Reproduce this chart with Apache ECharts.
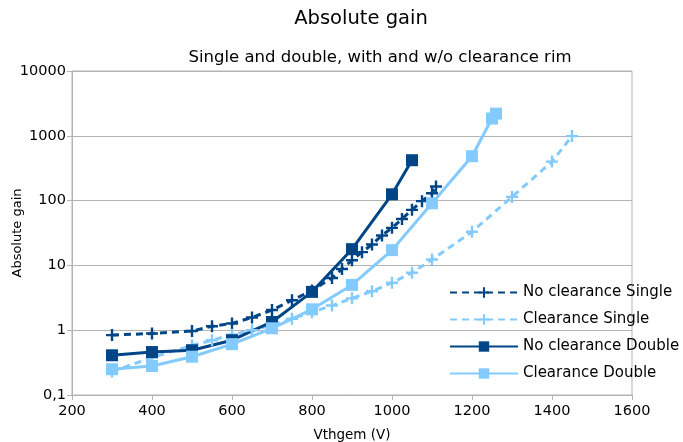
<!DOCTYPE html>
<html>
<head>
<meta charset="utf-8">
<script src="https://cdn.jsdelivr.net/npm/echarts@6/dist/echarts.min.js"></script>
<style>html,body{margin:0;padding:0;background:#fff}#c{width:683px;height:442px}</style>
</head>
<body>
<div id="c"></div>
<script>
const seriesNames = ['No clearance Single', 'Clearance Single', 'No clearance Double', 'Clearance Double'];

const ncSingleV = [300, 400, 500, 550, 600, 650, 700, 750, 800, 850, 875, 900, 925, 950, 975, 1000, 1025, 1050, 1075, 1100, 1110];
const ncSingleG = [0.84, 0.89, 0.97, 1.15, 1.27, 1.57, 2.05, 2.9, 4.1, 6.4, 8.8, 12, 16, 21, 29, 38, 52, 72, 98, 130, 165];

const cSingleV = [300, 400, 500, 550, 600, 650, 700, 750, 800, 850, 900, 950, 1000, 1050, 1100, 1200, 1300, 1400, 1450];
const cSingleG = [0.23, 0.38, 0.58, 0.70, 0.85, 1.0, 1.2, 1.5, 1.9, 2.4, 3.1, 4.0, 5.4, 7.7, 12.3, 33, 114, 400, 990];

const ncDoubleV = [300, 400, 500, 600, 700, 800, 900, 1000, 1050];
const ncDoubleG = [0.41, 0.46, 0.49, 0.70, 1.34, 3.9, 17.8, 125, 420];

const cDoubleV = [300, 400, 500, 600, 700, 800, 900, 1000, 1100, 1200, 1250, 1260];
const cDoubleG = [0.25, 0.28, 0.39, 0.61, 1.07, 2.1, 5.0, 17.2, 91, 484, 1850, 2200];

const xTicks = [200, 400, 600, 800, 1000, 1200, 1400, 1600];
const yTicks = [0.1, 1, 10, 100, 1000, 10000];

const dark = '#004586';
const light = '#83caff';
const plus = 'path://M4,0h2v4h4v2h-4v4h-2v-4h-4v-2h4z';
const font = 'DejaVu Sans';

function pairs(xs, ys) { return xs.map((x, i) => [x, ys[i]]); }

function mk(name, xs, ys, color, dashed, symbol, size) {
  return {
    name: name, type: 'line', data: pairs(xs, ys),
    symbol: symbol, symbolSize: size, showSymbol: true,
    itemStyle: { color: color },
    lineStyle: { color: color, width: 3, type: dashed ? [7, 5] : 'solid' },
    emphasis: { disabled: true }, animation: false
  };
}

const chart = echarts.init(document.getElementById('c'));
chart.setOption({
  backgroundColor: '#ffffff',
  textStyle: { fontFamily: font },
  title: [
    { text: 'Absolute gain', left: 356, top: 4, textAlign: 'center',
      textStyle: { fontFamily: font, fontSize: 19.5, fontWeight: 'normal', color: '#000' } },
    { text: 'Single and double, with and w/o clearance rim', left: 375, top: 44, textAlign: 'center',
      textStyle: { fontFamily: font, fontSize: 16.5, fontWeight: 'normal', color: '#000' } }
  ],
  legend: {
    orient: 'vertical', left: 444, top: 280,
    itemWidth: 68, itemHeight: 13, itemGap: 12,
    data: seriesNames,
    textStyle: { fontFamily: font, fontSize: 15, color: '#000' },
    selectedMode: false
  },
  grid: { left: 72, right: 51, top: 71, bottom: 47, show: true, borderColor: '#b3b3b3', borderWidth: 1,
    containLabel: false, outerBoundsMode: 'none' },
  xAxis: {
    type: 'value', min: 200, max: 1600, interval: 200,
    name: 'Vthgem (V)', nameLocation: 'middle', nameGap: 33, nameMoveOverlap: false,
    nameTextStyle: { fontFamily: font, fontSize: 13.5, color: '#000' },
    axisLine: { show: true, lineStyle: { color: '#b3b3b3' } },
    axisTick: { show: true, length: 5, lineStyle: { color: '#b3b3b3' } },
    axisLabel: { fontFamily: font, fontSize: 14.5, color: '#000', margin: 9,
      formatter: v => xTicks.indexOf(v) >= 0 ? String(v) : '' },
    splitLine: { show: false }
  },
  yAxis: {
    type: 'log', logBase: 10, min: 0.1, max: 10000,
    name: 'Absolute gain', nameLocation: 'middle', nameGap: 48, nameMoveOverlap: false,
    nameTextStyle: { fontFamily: font, fontSize: 13, color: '#000' },
    axisLine: { show: true, lineStyle: { color: '#b3b3b3' } },
    axisTick: { show: true, length: 5, lineStyle: { color: '#b3b3b3' } },
    axisLabel: { fontFamily: font, fontSize: 14.5, color: '#000', margin: 6,
      formatter: v => {
        const t = yTicks.find(k => Math.abs(k - v) / k < 1e-6);
        return t === undefined ? '' : String(t).replace('.', ',');
      } },
    splitLine: { show: true, lineStyle: { color: '#b3b3b3', width: 1 } },
    minorTick: { show: false }
  },
  series: [
    mk(seriesNames[0], ncSingleV, ncSingleG, dark, true, plus, 12),
    mk(seriesNames[1], cSingleV, cSingleG, light, true, plus, 12),
    mk(seriesNames[2], ncDoubleV, ncDoubleG, dark, false, 'rect', 12),
    mk(seriesNames[3], cDoubleV, cDoubleG, light, false, 'rect', 12)
  ]
});
</script>
</body>
</html>
